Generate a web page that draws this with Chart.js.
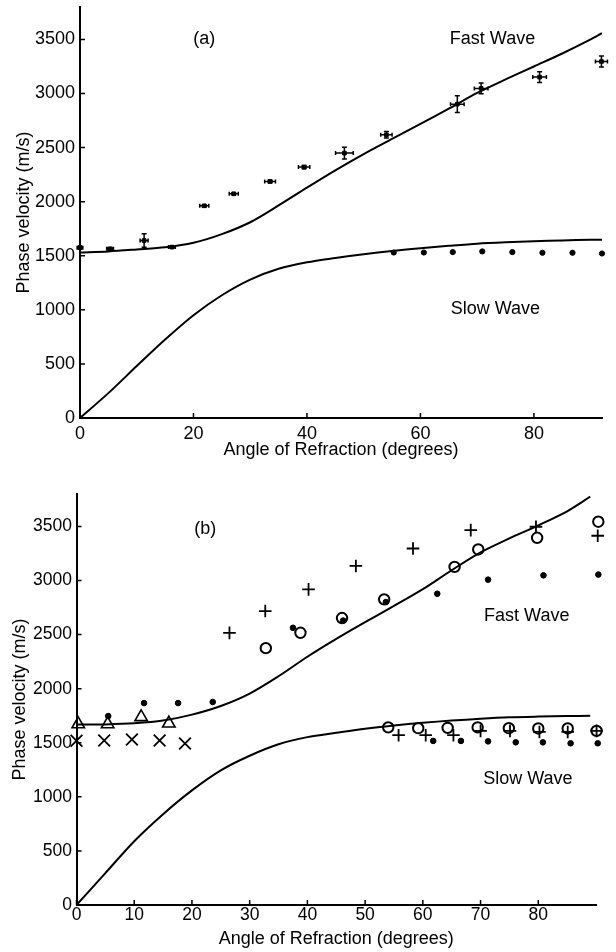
<!DOCTYPE html>
<html><head><meta charset="utf-8">
<script src="https://cdn.jsdelivr.net/npm/chart.js@4.4.1/dist/chart.umd.min.js"></script>
<style>
html,body{margin:0;padding:0;background:#fff;}
#wrap{position:relative;width:616px;height:952px;overflow:hidden;}
canvas{position:absolute;left:0;}
</style></head><body>
<div id="wrap">
<canvas id="ca" width="616" height="476" style="top:0"></canvas>
<canvas id="cb" width="616" height="476" style="top:476px"></canvas>
</div>
<script>
// ---------- tick labels ----------
const xTicksA = [0, 20, 40, 60, 80];
const xTicksB = [0, 10, 20, 30, 40, 50, 60, 70, 80];
const yTicks = [0, 500, 1000, 1500, 2000, 2500, 3000, 3500];

// ---------- panel (a): theory curves ----------
const curveAnglesA = [0,5,10,15,20,25,30,35,40,45,50,55,60,65,70,75,80,85,90,92];
const fastCurveA = [1530,1540,1558,1578,1620,1700,1810,1965,2130,2290,2440,2580,2720,2860,3005,3130,3250,3370,3500,3558];
const slowCurveA = [0,230,480,725,950,1135,1280,1380,1440,1480,1515,1545,1570,1592,1612,1625,1635,1642,1647,1648];

// ---------- panel (a): measurements ----------
const fastAngleA = [0,5.3,11.3,16.2,21.9,27.1,33.5,39.5,46.6,54.0,66.5,70.7,81.0,91.9];
const fastValA   = [1575,1564,1641,1580,1962,2073,2187,2320,2449,2618,2902,3047,3152,3296];
const fastXErrA  = [0.5,0.6,0.7,0.6,0.8,0.8,0.95,1.0,1.56,1.0,1.2,1.2,1.2,1.06];
const fastYErrA  = [12,12,62,8,10,10,12,15,55,30,77,50,50,50];
const slowAngleA = [55.3,60.6,65.7,70.9,76.2,81.5,86.8,92.0];
const slowValA   = [1530,1530,1534,1540,1534,1528,1528,1521];

// ---------- panel (b): theory curves ----------
const curveAnglesB = [0,5,10,15,20,25,30,35,40,45,50,55,60,65,70,75,80,85,89];
const fastCurveB = [1668,1670,1680,1705,1760,1840,1955,2115,2295,2460,2615,2765,2920,3095,3260,3390,3510,3640,3775];
const slowCurveB = [0,295,590,840,1060,1245,1380,1486,1552,1592,1630,1660,1685,1705,1722,1735,1742,1747,1750];

// ---------- panel (b): measurements ----------
const plusFastX = [26.5,32.7,40.2,48.4,58.3,68.3,79.6,90.3];
const plusFastY = [2516,2718,2918,3135,3296,3466,3497,3414];
const circFastX = [32.8,38.8,46.0,53.3,65.5,69.6,79.8,90.4];
const circFastY = [2375,2517,2653,2826,3126,3287,3395,3544];
const dotFastX  = [5.5,11.7,17.6,23.6,37.5,46.2,53.6,62.5,71.3,80.9,90.4];
const dotFastY  = [1747,1867,1867,1877,2563,2630,2801,2878,3008,3048,3055];
const triX = [0.3,5.4,11.2,16.0];
const triY = [1672,1672,1738,1679];
const crossX = [0,4.8,9.6,14.4,18.8];
const crossY = [1518,1521,1530,1521,1494];
const circSlowX = [54.0,59.2,64.3,69.5,74.9,80.0,85.1,90.1];
const circSlowY = [1642,1635,1638,1642,1635,1632,1632,1610];
const plusSlowX = [55.8,60.5,65.3,70.0,75.1,80.2,85.1,90.1];
const plusSlowY = [1570,1570,1570,1610,1610,1600,1600,1610];
const dotSlowX  = [61.8,66.6,71.3,76.1,80.8,85.6,90.3];
const dotSlowY  = [1517,1517,1513,1504,1504,1495,1495];

// ---------- text labels (data coordinates) ----------
const labelsA = [
  {text: '(a)', x: 21.9, y: 3505},
  {text: 'Fast Wave', x: 72.7, y: 3505},
  {text: 'Slow Wave', x: 73.2, y: 1010}
];
const labelsB = [
  {text: '(b)', x: 22.3, y: 3479},
  {text: 'Fast Wave', x: 78.0, y: 2672},
  {text: 'Slow Wave', x: 78.2, y: 1169}
];

const FONT = '"Liberation Sans", Arial, Helvetica, sans-serif';
const zip = (xs, ys) => xs.map((x, i) => ({x: x, y: ys[i]}));

const innerTicks = {
  id: 'innerTicks',
  afterDraw(chart) {
    const {ctx, chartArea, scales} = chart;
    ctx.save();
    ctx.strokeStyle = '#000';
    ctx.lineWidth = 1.5;
    ctx.beginPath();
    scales.x.ticks.forEach(t => {
      const px = scales.x.getPixelForValue(t.value);
      ctx.moveTo(px, chartArea.bottom);
      ctx.lineTo(px, chartArea.bottom - 5);
    });
    scales.y.ticks.forEach(t => {
      const py = scales.y.getPixelForValue(t.value);
      ctx.moveTo(chartArea.left, py);
      ctx.lineTo(chartArea.left + 5, py);
    });
    ctx.stroke();
    ctx.restore();
  }
};

const errorBars = {
  id: 'errorBars',
  afterDatasetsDraw(chart) {
    const {ctx, scales} = chart;
    ctx.save();
    ctx.strokeStyle = '#000';
    ctx.lineWidth = 1.5;
    chart.data.datasets.forEach(ds => {
      if (!ds.errorBars) return;
      ds.data.forEach(p => {
        const cx = scales.x.getPixelForValue(p.x);
        const cy = scales.y.getPixelForValue(p.y);
        const x0 = scales.x.getPixelForValue(p.x - p.xe);
        const x1 = scales.x.getPixelForValue(p.x + p.xe);
        const y0 = scales.y.getPixelForValue(p.y - p.ye);
        const y1 = scales.y.getPixelForValue(p.y + p.ye);
        ctx.beginPath();
        ctx.moveTo(x0, cy); ctx.lineTo(x1, cy);
        ctx.moveTo(cx, y0); ctx.lineTo(cx, y1);
        ctx.moveTo(x0, cy - 2); ctx.lineTo(x0, cy + 2);
        ctx.moveTo(x1, cy - 2); ctx.lineTo(x1, cy + 2);
        ctx.moveTo(cx - 2.5, y0); ctx.lineTo(cx + 2.5, y0);
        ctx.moveTo(cx - 2.5, y1); ctx.lineTo(cx + 2.5, y1);
        ctx.stroke();
      });
    });
    ctx.restore();
  }
};

const textLabels = {
  id: 'textLabels',
  afterDraw(chart, args, opts) {
    const {ctx, scales} = chart;
    ctx.save();
    ctx.fillStyle = '#000';
    ctx.font = '18px ' + FONT;
    ctx.textAlign = 'center';
    ctx.textBaseline = 'middle';
    (opts.items || []).forEach(l => {
      ctx.fillText(l.text, scales.x.getPixelForValue(l.x), scales.y.getPixelForValue(l.y));
    });
    ctx.restore();
  }
};

function curve(xs, ys) {
  return {data: zip(xs, ys), showLine: true, borderColor: '#000', borderWidth: 2,
          pointRadius: 0, tension: 0.3, fill: false, order: 2};
}
function marks(xs, ys, style, radius, filled, lw) {
  return {data: zip(xs, ys), showLine: false, pointStyle: style, pointRadius: radius,
          pointBorderColor: '#000', pointBackgroundColor: filled ? '#000' : 'rgba(0,0,0,0)',
          pointBorderWidth: lw, clip: false, order: 1};
}

function makeChart(id, cfg) {
  const tickFont = {family: FONT, size: cfg.tickSize};
  const titleFont = {family: FONT, size: 18};
  return new Chart(document.getElementById(id), {
    type: 'scatter',
    data: {datasets: cfg.datasets},
    plugins: [innerTicks, errorBars, textLabels],
    options: {
      responsive: false,
      devicePixelRatio: 1,
      animation: false,
      layout: {padding: cfg.pad},
      plugins: {legend: {display: false}, tooltip: {enabled: false}, textLabels: {items: cfg.labels}},
      scales: {
        x: {
          type: 'linear', min: 0, max: cfg.xMax,
          afterBuildTicks: s => { s.ticks = cfg.xTicks.map(v => ({value: v})); },
          afterFit: s => { s.height = cfg.xH; s.paddingLeft = 0; s.paddingRight = 0; },
          ticks: {font: tickFont, color: '#000', padding: cfg.xPad, maxRotation: 0, autoSkip: false,
                  callback: v => String(v)},
          grid: {display: true, drawOnChartArea: false, drawTicks: false},
          border: {display: true, color: '#000', width: 2},
          title: {display: true, text: 'Angle of Refraction (degrees)', font: titleFont, color: '#000',
                  padding: {top: 0, bottom: cfg.xTitlePad}}
        },
        y: {
          type: 'linear', min: 0, max: 3800,
          afterBuildTicks: s => { s.ticks = yTicks.map(v => ({value: v})); },
          afterFit: s => { s.width = cfg.yW; s.paddingTop = 0; s.paddingBottom = 0; },
          ticks: {font: tickFont, color: '#000', padding: cfg.yPad, autoSkip: false,
                  callback: v => String(v)},
          grid: {display: true, drawOnChartArea: false, drawTicks: false},
          border: {display: true, color: '#000', width: 2},
          title: {display: true, text: 'Phase velocity (m/s)', font: titleFont, color: '#000',
                  padding: {top: cfg.yTitlePad, bottom: 0}}
        }
      }
    }
  });
}

// panel (a)
const fastPtsA = fastAngleA.map((x, i) => ({x: x, y: fastValA[i], xe: fastXErrA[i], ye: fastYErrA[i]}));
const fastDsA = marks([], [], 'rect', 2.6, true, 1);
fastDsA.data = fastPtsA;
fastDsA.errorBars = true;
makeChart('ca', {
  xMax: 92, xTicks: xTicksA, tickSize: 18,
  pad: {top: 7, right: 14, left: 0, bottom: 0},
  xH: 58, yW: 80, xPad: 5, yPad: 5, xTitlePad: 15.2, yTitlePad: 13.7,
  labels: labelsA,
  datasets: [
    curve(curveAnglesA, fastCurveA),
    curve(curveAnglesA, slowCurveA),
    fastDsA,
    marks(slowAngleA, slowValA, 'circle', 2.6, true, 1)
  ]
});

// panel (b)
makeChart('cb', {
  xMax: 90, xTicks: xTicksB, tickSize: 17.5,
  pad: {top: 18, right: 20, left: 0, bottom: 0},
  xH: 47, yW: 76.5, xPad: 0, yPad: 4.5, xTitlePad: 2.6, yTitlePad: 9.5,
  labels: labelsB,
  datasets: [
    curve(curveAnglesB, fastCurveB),
    curve(curveAnglesB, slowCurveB),
    marks(plusFastX, plusFastY, 'cross', 6.3, false, 1.8),
    marks(circFastX, circFastY, 'circle', 5.2, false, 2),
    marks(dotFastX, dotFastY, 'circle', 2.8, true, 1),
    marks(triX, triY, 'triangle', 7.2, false, 1.6),
    marks(crossX, crossY, 'crossRot', 8.3, false, 1.8),
    marks(circSlowX, circSlowY, 'circle', 5.2, false, 2),
    marks(plusSlowX, plusSlowY, 'cross', 6.3, false, 1.8),
    marks(dotSlowX, dotSlowY, 'circle', 2.8, true, 1)
  ]
});
</script>
</body></html>
